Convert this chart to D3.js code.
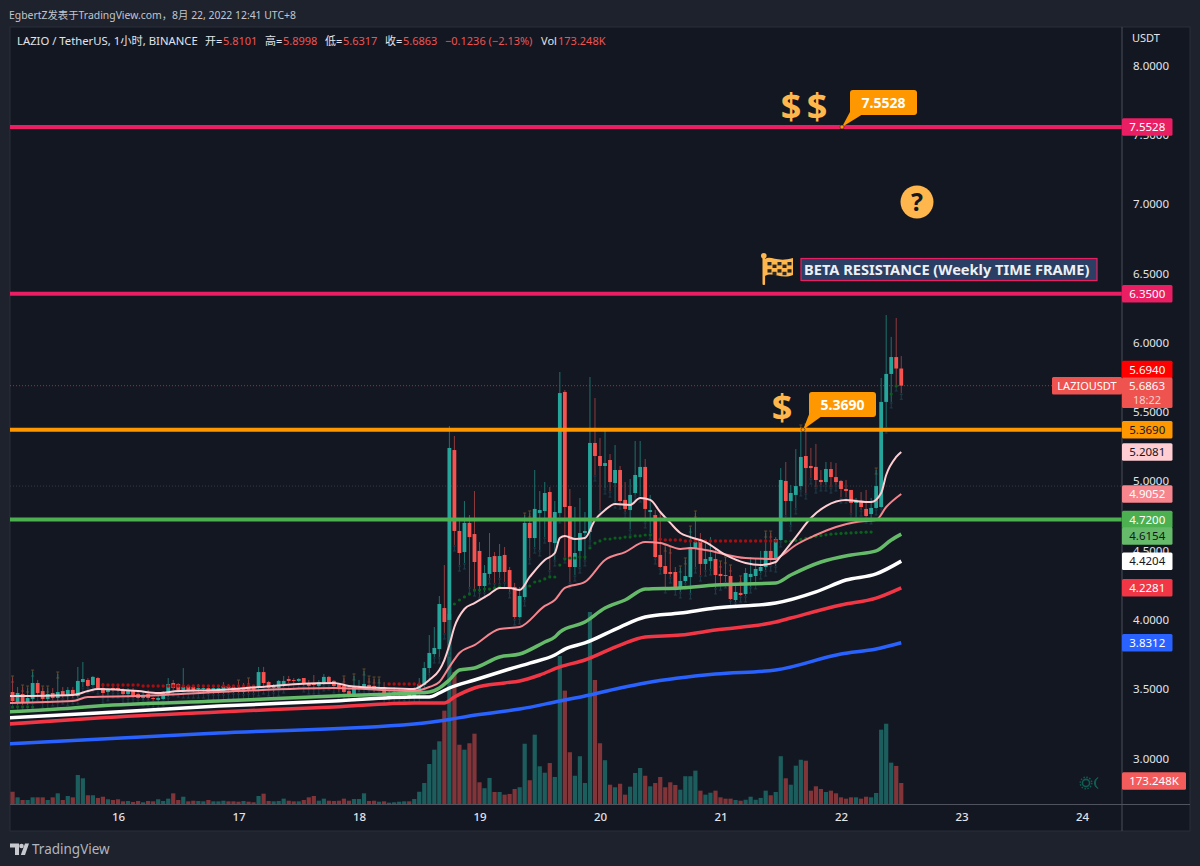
<!DOCTYPE html>
<html>
<head>
<meta charset="utf-8">
<script src="https://cdn.jsdelivr.net/npm/d3@7"></script>
<style>
html,body{margin:0;padding:0;background:#1e222d;}
svg{display:block;}
text{font-family:"Noto Sans","Noto Sans CJK SC",sans-serif;}
</style>
</head>
<body>
<svg id="chart" width="1200" height="866"></svg>
<script>
const opens = [
3.476,3.404,3.462,3.397,3.426,3.541,3.483,3.426,3.469,3.433,
3.483,3.447,3.491,3.447,3.548,3.563,3.527,3.577,3.505,3.476,
3.505,3.505,3.491,3.462,3.483,3.462,3.433,3.462,3.433,3.419,
3.426,3.462,3.541,3.534,3.491,3.520,3.512,3.498,3.498,3.505,
3.483,3.483,3.476,3.520,3.512,3.505,3.476,3.520,3.512,3.505,
3.620,3.548,3.505,3.505,3.534,3.570,3.563,3.556,3.577,3.541,
3.541,3.520,3.541,3.585,3.556,3.534,3.520,3.483,3.462,3.512,
3.512,3.527,3.520,3.505,3.505,3.440,3.455,3.462,3.462,3.469,
3.447,3.483,3.527,3.649,3.750,3.786,4.082,3.996,5.222,4.638,
4.486,4.696,4.616,4.494,4.241,4.328,4.457,4.342,4.465,4.356,
4.234,4.017,4.162,4.696,4.587,4.768,4.782,4.919,4.551,4.768,
5.641,4.818,4.378,4.494,4.623,4.631,5.273,5.179,5.107,5.150,
4.984,5.078,4.862,4.789,4.912,5.027,5.100,4.775,4.753,4.465,
4.385,4.342,4.342,4.227,4.277,4.306,4.515,4.566,4.400,4.421,
4.436,4.328,4.320,4.313,4.140,4.191,4.183,4.306,4.313,4.349,
4.378,4.494,4.436,4.573,4.999,4.854,4.898,4.962,5.179,5.107,
5.100,5.006,4.991,5.085,5.027,4.999,4.941,4.934,4.840,4.854,
4.797,4.760,4.804,4.811,5.569,5.771,5.893,5.8101];
const highs = [
3.577,3.512,3.512,3.505,3.620,3.563,3.505,3.505,3.505,3.606,
3.512,3.512,3.512,3.657,3.693,3.577,3.592,3.585,3.541,3.505,
3.534,3.534,3.505,3.505,3.505,3.476,3.476,3.491,3.440,3.455,
3.483,3.577,3.563,3.541,3.649,3.527,3.527,3.534,3.520,3.527,
3.520,3.520,3.548,3.534,3.527,3.548,3.541,3.563,3.527,3.657,
3.657,3.556,3.534,3.563,3.592,3.592,3.577,3.577,3.577,3.563,
3.599,3.563,3.606,3.592,3.563,3.541,3.577,3.527,3.592,3.563,
3.628,3.577,3.570,3.570,3.548,3.491,3.512,3.505,3.491,3.491,
3.512,3.577,3.693,3.887,3.945,4.169,4.392,5.395,5.323,4.717,
4.854,4.753,4.926,4.558,4.392,4.623,4.486,4.544,4.522,4.378,
4.263,4.234,4.753,4.768,5.078,4.926,4.991,4.955,4.854,5.785,
5.655,4.941,4.811,4.876,4.775,5.749,5.597,5.309,5.381,5.193,
5.258,5.107,4.991,5.013,5.287,5.287,5.157,4.898,4.789,4.768,
4.522,4.508,4.378,4.371,4.429,4.659,4.768,4.623,4.551,4.594,
4.515,4.407,4.436,4.378,4.263,4.299,4.371,4.450,4.443,4.494,
4.623,4.623,4.594,5.092,5.136,4.970,5.229,5.388,5.395,5.237,
5.266,5.078,5.136,5.136,5.128,5.006,5.006,4.934,4.876,4.919,
4.934,4.876,5.078,5.742,6.196,6.038,6.175,5.8998];
const lows = [
3.404,3.382,3.382,3.382,3.397,3.455,3.404,3.404,3.419,3.404,
3.433,3.419,3.433,3.433,3.512,3.512,3.520,3.505,3.440,3.455,
3.476,3.476,3.440,3.433,3.433,3.426,3.419,3.419,3.411,3.404,
3.419,3.440,3.491,3.483,3.476,3.476,3.476,3.476,3.476,3.462,
3.462,3.462,3.462,3.469,3.469,3.469,3.462,3.469,3.469,3.491,
3.505,3.491,3.476,3.491,3.512,3.541,3.541,3.548,3.520,3.505,
3.505,3.505,3.527,3.534,3.512,3.476,3.469,3.455,3.455,3.476,
3.505,3.498,3.476,3.491,3.433,3.440,3.440,3.447,3.455,3.440,
3.440,3.447,3.505,3.613,3.729,3.729,3.902,3.779,4.537,4.392,
4.407,4.234,4.212,4.198,4.198,4.299,4.263,4.299,4.270,4.198,
4.003,4.010,4.140,4.443,4.522,4.501,4.594,4.356,4.429,4.739,
4.450,4.270,4.320,4.378,4.429,4.573,5.042,4.789,4.948,4.926,
4.847,4.840,4.775,4.652,4.898,4.890,4.703,4.623,4.443,4.371,
4.234,4.306,4.219,4.198,4.263,4.191,4.378,4.320,4.356,4.364,
4.227,4.255,4.270,4.140,4.126,4.169,4.169,4.234,4.263,4.335,
4.356,4.392,4.385,4.566,4.753,4.681,4.804,4.934,4.912,5.020,
4.955,4.970,4.970,4.955,4.970,4.883,4.883,4.768,4.739,4.789,
4.739,4.732,4.797,4.804,5.388,5.569,5.691,5.6317];
const closes = [
3.411,3.469,3.404,3.433,3.541,3.469,3.426,3.462,3.433,3.476,
3.455,3.491,3.455,3.556,3.570,3.520,3.585,3.505,3.469,3.498,
3.491,3.491,3.462,3.491,3.447,3.433,3.455,3.433,3.426,3.433,
3.469,3.534,3.505,3.491,3.512,3.483,3.483,3.505,3.505,3.469,
3.505,3.505,3.520,3.505,3.483,3.476,3.505,3.491,3.491,3.620,
3.541,3.505,3.520,3.556,3.556,3.556,3.556,3.570,3.534,3.520,
3.527,3.548,3.585,3.548,3.520,3.512,3.476,3.462,3.512,3.520,
3.534,3.505,3.491,3.512,3.447,3.469,3.476,3.469,3.469,3.447,
3.491,3.534,3.649,3.758,3.794,4.111,3.981,5.237,4.638,4.479,
4.696,4.594,4.414,4.241,4.335,4.450,4.342,4.457,4.342,4.219,
4.017,4.169,4.696,4.587,4.797,4.789,4.912,4.558,4.775,5.633,
4.811,4.378,4.479,4.623,4.638,5.273,5.179,5.107,5.128,4.991,
5.078,4.854,4.797,4.898,5.042,5.100,4.797,4.789,4.450,4.378,
4.328,4.328,4.227,4.277,4.313,4.522,4.558,4.400,4.436,4.450,
4.320,4.313,4.313,4.147,4.198,4.176,4.335,4.328,4.364,4.378,
4.494,4.436,4.580,5.006,4.854,4.912,4.962,5.172,5.092,5.092,
5.006,4.991,5.085,5.027,4.991,4.941,4.926,4.840,4.862,4.811,
4.746,4.804,4.962,5.569,5.771,5.893,5.8101,5.6863];
// volume in thousands
const volumes = [
101,55,33,33,55,55,55,33,55,88,
33,66,55,239,212,72,72,50,60,39,
33,39,22,25,17,25,14,25,22,39,
25,44,88,33,60,22,27,25,22,33,
22,22,27,22,22,19,25,19,14,66,
85,25,22,25,44,27,22,22,33,55,
66,27,44,27,25,27,44,27,41,41,
88,25,27,19,22,11,14,19,22,22,
41,101,173,330,448,517,770,1568,1087,489,
448,501,580,179,130,215,99,99,77,83,
124,138,497,196,572,311,258,338,223,1221,
935,427,233,394,173,1584,1023,501,361,159,
138,167,77,143,256,297,233,146,173,223,
138,179,157,118,229,229,275,110,77,93,
110,55,44,44,33,27,35,60,35,50,
110,72,99,394,212,159,316,365,357,110,
146,124,99,110,88,55,44,55,55,44,
60,55,91,613,662,341,314,173.248];

// moving averages: bar index and price (-1 = left edge of the pane)
const fastIdx = [-1,12,15,17,25,29,33,41,49,57,64,67,74,80,81,83,85,86,87,88,90,92,95,97,99,101,103,106,108,109,110,112,114,116,118,120,123,125,127,129,131,133,135,138,142,146,149,152,153,156,159,162,166,168,171,173,174,176,177];
const fastMA = [3.447,3.455,3.483,3.498,3.483,3.469,3.483,3.491,3.512,3.534,3.541,3.520,3.505,3.498,3.512,3.563,3.635,3.707,3.815,3.945,4.075,4.118,4.183,4.227,4.227,4.212,4.306,4.429,4.479,4.587,4.602,4.580,4.587,4.717,4.789,4.833,4.826,4.876,4.862,4.775,4.696,4.623,4.594,4.558,4.465,4.407,4.392,4.414,4.457,4.594,4.732,4.818,4.862,4.854,4.847,4.912,5.042,5.172,5.2081];
const salmonIdx = [-1,12,15,25,41,64,80,83,85,87,89,92,97,101,106,108,110,114,118,122,126,129,133,135,138,146,152,153,156,160,164,168,172,174,177];
const salmonMA = [3.397,3.411,3.440,3.447,3.476,3.505,3.483,3.512,3.548,3.657,3.758,3.815,3.931,3.945,4.097,4.140,4.227,4.270,4.429,4.486,4.558,4.551,4.508,4.515,4.501,4.443,4.436,4.457,4.537,4.609,4.667,4.703,4.717,4.811,4.9052];
const greenIdx = [-1,12,17,41,64,80,83,85,87,89,92,97,101,106,108,109,114,118,122,126,133,140,152,155,161,167,172,175,177];
const greenMA = [3.332,3.361,3.375,3.411,3.447,3.469,3.476,3.505,3.563,3.635,3.649,3.729,3.750,3.837,3.873,3.909,3.981,4.082,4.140,4.219,4.227,4.248,4.263,4.320,4.414,4.465,4.494,4.573,4.6154];
const whiteIdx = [-1,17,41,64,80,83,85,87,92,99,103,108,110,114,121,126,133,140,152,160,166,172,177];
const whiteMA = [3.289,3.325,3.375,3.411,3.440,3.440,3.469,3.505,3.563,3.642,3.685,3.743,3.786,3.830,3.945,4.017,4.046,4.082,4.118,4.198,4.284,4.328,4.4204];
const redIdx = [-1,17,41,64,80,86,88,92,98,101,105,109,114,121,126,133,140,152,155,165,172,177];
const redMA = [3.245,3.289,3.332,3.368,3.397,3.397,3.440,3.505,3.541,3.556,3.599,3.657,3.707,3.815,3.873,3.887,3.923,3.981,4.010,4.104,4.154,4.2281];
const blueIdx = [-1,41,80,87,91,101,109,114,121,126,140,152,165,172,177];
const blueMA = [3.101,3.180,3.245,3.278,3.303,3.353,3.411,3.447,3.505,3.541,3.606,3.635,3.750,3.786,3.8312];

// stop-and-reverse style dots
const redDotIdx = [18,19,20,21,22,23,24,25,26,27,28,29,30,31,32,33,34,35,36,37,38,39,40,41,42,43,44,45,46,47,48,75,76,77,78,79,80,81,129,130,131,132,133,134,135,136,137,138,139,140,141,142,143,144,145,146,147,148,149,150,151,152];
const redDotVal = [3.527,3.527,3.527,3.527,3.527,3.527,3.527,3.527,3.520,3.520,3.520,3.520,3.520,3.520,3.520,3.520,3.520,3.520,3.520,3.520,3.520,3.520,3.520,3.520,3.520,3.520,3.520,3.520,3.520,3.520,3.520,3.534,3.534,3.534,3.534,3.534,3.534,3.534,4.578,4.573,4.573,4.573,4.573,4.566,4.566,4.566,4.566,4.566,4.566,4.566,4.566,4.566,4.566,4.566,4.566,4.566,4.566,4.566,4.566,4.566,4.566,4.566];
const greenDotIdx = [0,1,2,3,4,88,89,90,91,92,93,94,95,96,97,103,104,105,106,107,108,109,110,111,112,113,114,115,116,117,118,119,120,121,122,123,124,125,126,127,154,155,156,157,158,159,160,161,162,163,164,165,166,167,168,169,170,171,175,176];
const greenDotVal = [3.368,3.368,3.368,3.368,3.368,4.111,4.140,4.162,4.183,4.212,4.212,4.219,4.219,4.227,4.234,4.241,4.270,4.277,4.292,4.306,4.306,4.392,4.436,4.443,4.443,4.450,4.450,4.515,4.551,4.566,4.580,4.580,4.587,4.587,4.594,4.594,4.602,4.602,4.609,4.609,4.563,4.563,4.570,4.577,4.584,4.592,4.600,4.605,4.610,4.615,4.618,4.620,4.622,4.624,4.626,4.628,4.629,4.630,5.626,5.684];
const brownTopIdx = [0,2,3,4,6,7,9,45,47,66,68,70,71,72,73,102,103,130,131,133,134,135,136,141,142,143,145,150,151,157,158,172];

const yTicks = [8,7.5,7,6.5,6,5.5,5,4.5,4,3.5,3];
const xDays = [16,17,18,19,20,21,22,23,24];
const hLevels = [7.5528,6.35,5.369,4.72];
const hColors = ["#e91e63","#e91e63","#ff9800","#4caf50"];
const dottedLevel = 4.962;
const lastClose = 5.6863;

const tagValues = [7.5528,6.35,5.694,5.369,5.2081,4.9052,4.72,4.6154,4.4204,4.2281,3.8312];
const tagLabels = ["7.5528","6.3500","5.6940","5.3690","5.2081","4.9052","4.7200","4.6154","4.4204","4.2281","3.8312"];
const tagFills  = ["#e91e63","#e91e63","#ff0000","#ff9800","#ffcdd2","#f7858d","#4caf50","#66bb6a","#ffffff","#f23645","#2962ff"];
const tagInks   = ["#fff","#fff","#fff","#131722","#131722","#fff","#fff","#131722","#131722","#fff","#fff"];
const tagShift  = [0,0,-15,0,0,0,0,2,0,0,0];

const W = 1200, H = 866;
const L = 10, R = 1122, T = 27, PB = 804, B = 831, RE = 1190;
const svg = d3.select("#chart");

const x = d3.scaleLinear().domain([21, 165]).range([118, 841]);
const y = d3.scaleLinear().domain([8, 3]).range([65, 758]);
const vY = d3.scaleLinear().domain([0, 1691]).range([804, 599]);
const dayIdx = d => 21 + (d - 16) * 24;

svg.append("rect").attr("width", W).attr("height", H).attr("fill", "#1e222d");
svg.append("rect").attr("x", L).attr("y", T).attr("width", RE - L).attr("height", B - T)
  .attr("fill", "#131722").attr("stroke", "#2a2e39");
const clip = svg.append("clipPath").attr("id", "plot").append("rect")
  .attr("x", L).attr("y", T).attr("width", R - L).attr("height", PB - T);

// header text
function piece(xp, yp, s, fill, size) {
  svg.append("text").attr("x", xp).attr("y", yp).attr("fill", fill).attr("font-size", size || 11).text(s);
}
piece(9, 19, "EgbertZ发表于TradingView.com，8月 22, 2022 12:41 UTC+8", "#c3c6ce", 10.4);
const hW = "#e2e4ea", hR = "#ef5350";
piece(17, 45, "LAZIO / TetherUS, 1小时, BINANCE", hW, 11.3);
piece(205, 45, "开=", hW); piece(223, 45, "5.8101", hR);
piece(265, 45, "高=", hW); piece(283, 45, "5.8998", hR);
piece(325, 45, "低=", hW); piece(343, 45, "5.6317", hR);
piece(385, 45, "收=", hW); piece(403, 45, "5.6863", hR);
piece(445, 45, "−0.1236 (−2.13%)", hR);
piece(541, 45, "Vol", hW); piece(558, 45, "173.248K", hR);
piece(1132, 42, "USDT", hW, 11);

const plot = svg.append("g").attr("clip-path", "url(#plot)");

// dotted references
plot.append("line").attr("x1", L).attr("x2", R).attr("y1", y(dottedLevel)).attr("y2", y(dottedLevel))
  .attr("stroke", "#363a45").attr("stroke-dasharray", "1 2");
plot.append("line").attr("x1", L).attr("x2", R).attr("y1", y(lastClose)).attr("y2", y(lastClose))
  .attr("stroke", "#ef5350").attr("stroke-opacity", .55).attr("stroke-dasharray", "1 2");

// volume
const up = i => closes[i] >= opens[i];
plot.append("g").selectAll("rect").data(volumes).join("rect")
  .attr("x", (d, i) => x(i) - 2.1).attr("width", 4.2)
  .attr("y", d => vY(d)).attr("height", d => vY(0) - vY(d))
  .attr("fill", (d, i) => up(i) ? "#26a69a" : "#ef5350")
  .attr("fill-opacity", .5);

// low markers and high markers
const lowG = plot.append("g").attr("stroke", "#1f3d4a").attr("stroke-width", 1);
lows.forEach((v, i) => {
  const px = x(i), py = y(v);
  lowG.append("path").attr("d", `M${px - 1.5},${py + 1}H${px + 1.5}M${px},${py + 1}V${py + 6}M${px - 1.5},${py + 6}H${px + 1.5}`).attr("fill", "none");
});
const brownG = plot.append("g").attr("stroke", "#5f4a2c").attr("stroke-width", 1);
brownTopIdx.forEach(i => {
  const px = x(i), py = y(highs[i]);
  brownG.append("path").attr("d", `M${px - 1.5},${py - 2}H${px + 1.5}M${px},${py - 2}V${py + 4}M${px - 1.5},${py + 4}H${px + 1.5}`).attr("fill", "none");
});

// candles
const candles = plot.append("g");
candles.selectAll("line").data(opens).join("line")
  .attr("x1", (d, i) => x(i)).attr("x2", (d, i) => x(i))
  .attr("y1", (d, i) => y(highs[i])).attr("y2", (d, i) => y(lows[i]))
  .attr("stroke", (d, i) => up(i) ? "#1d716d" : "#8e3b3e").attr("stroke-width", 1);
candles.selectAll("rect").data(opens).join("rect")
  .attr("x", (d, i) => x(i) - 1.9).attr("width", 3.8)
  .attr("y", (d, i) => y(Math.max(opens[i], closes[i])))
  .attr("height", (d, i) => Math.max(1, Math.abs(y(opens[i]) - y(closes[i]))))
  .attr("fill", (d, i) => up(i) ? "#26a69a" : "#f6524f");

// dots
plot.append("g").selectAll("circle").data(redDotIdx).join("circle")
  .attr("cx", d => x(d)).attr("cy", (d, k) => y(redDotVal[k])).attr("r", 1.7).attr("fill", "#a50f12");
plot.append("g").selectAll("circle").data(greenDotIdx).join("circle")
  .attr("cx", d => x(d)).attr("cy", (d, k) => y(greenDotVal[k])).attr("r", 1.6).attr("fill", "#0a5f1c");

// moving averages
const maLine = d3.line().x(d => x(d[0])).y(d => y(d[1])).curve(d3.curveMonotoneX);
const mas = [
  [blueIdx, blueMA, "#2962ff", 3.5],
  [redIdx, redMA, "#f23645", 3.5],
  [whiteIdx, whiteMA, "#ffffff", 3.5],
  [greenIdx, greenMA, "#66bb6a", 3.5],
  [salmonIdx, salmonMA, "#f7858d", 2],
  [fastIdx, fastMA, "#ffcdd2", 2]
];
mas.forEach(([idx, vals, col, w]) => {
  plot.append("path").attr("d", maLine(idx.map((d, k) => [d, vals[k]])))
    .attr("fill", "none").attr("stroke", col).attr("stroke-width", w).attr("stroke-linejoin", "round");
});

// horizontal levels
plot.append("g").selectAll("line").data(hLevels).join("line")
  .attr("x1", L).attr("x2", R).attr("y1", d => y(d)).attr("y2", d => y(d))
  .attr("stroke", (d, i) => hColors[i]).attr("stroke-width", 4);

// axes
svg.append("line").attr("x1", R).attr("x2", R).attr("y1", T).attr("y2", B).attr("stroke", "#4a4e59");
svg.append("line").attr("x1", L).attr("x2", RE).attr("y1", PB + .5).attr("y2", PB + .5).attr("stroke", "#50535e");

const yAxis = d3.axisRight(y).tickValues(yTicks).tickFormat(d3.format(".4f")).tickSize(0).tickPadding(11);
const yG = svg.append("g").attr("transform", `translate(${R},0.5)`).call(yAxis);
yG.select(".domain").remove();
yG.selectAll("text").attr("fill", "#e2e4ea").attr("font-size", 11.5);

const xAxis = d3.axisBottom(x).tickValues(xDays.map(dayIdx)).tickFormat((d, i) => xDays[i]).tickSize(0).tickPadding(9);
const xG = svg.append("g").attr("transform", `translate(0,${PB})`).call(xAxis);
xG.select(".domain").remove();
xG.selectAll("text").attr("fill", "#e2e4ea").attr("font-size", 11.5).attr("font-weight", 500);

// price tags
function tag(xl, yc, w, h, fill, ink, label, size) {
  svg.append("rect").attr("x", xl).attr("y", yc - h / 2).attr("width", w).attr("height", h)
    .attr("rx", 1.5).attr("fill", fill);
  if (label) svg.append("text").attr("x", xl + w / 2).attr("y", yc + 4).attr("text-anchor", "middle")
    .attr("fill", ink).attr("font-size", size || 11.5).text(label);
}
tagValues.forEach((v, i) => tag(R, y(v) + tagShift[i], 50.5, 17.5, tagFills[i], tagInks[i], tagLabels[i]));
tag(R, y(lastClose) + 7, 50.5, 30.5, "#ef5350", "#fff", "");
svg.append("text").attr("x", R + 25).attr("y", y(lastClose) + 4).attr("text-anchor", "middle").attr("fill", "#fff").attr("font-size", 11.5).text(d3.format(".4f")(lastClose));
svg.append("text").attr("x", R + 25).attr("y", y(lastClose) + 18).attr("text-anchor", "middle").attr("fill", "#fbd0cf").attr("font-size", 11).text("18:22");
tag(1052, y(lastClose), 70, 17.5, "#ef5350", "#fff", "LAZIOUSDT", 11);
tag(R, vY(173.248) - 2, 64, 17.5, "#f45c5c", "#fff", "173.248K", 11.5);

// annotations
const amber = "#ffb74d", orange = "#ff9800";
function dollar(xc, yc, size) {
  svg.append("text").attr("x", xc).attr("y", yc).attr("text-anchor", "middle").attr("dominant-baseline", "central")
    .attr("font-size", size).attr("font-weight", 700).attr("font-family", "DejaVu Sans").attr("fill", amber).text("$");
}
dollar(791, 105, 36); dollar(817, 105, 36); dollar(782, 406, 36);

function callout(priceVal, tipX, boxX, boxYTop, label) {
  const tipY = y(priceVal);
  svg.append("path").attr("d", `M${tipX},${tipY}L${boxX + 1},${boxYTop + 20}L${boxX + 13},${boxYTop + 24}Z`).attr("fill", orange);
  svg.append("rect").attr("x", boxX).attr("y", boxYTop).attr("width", 67).attr("height", 25).attr("rx", 3).attr("fill", orange);
  svg.append("circle").attr("cx", tipX).attr("cy", tipY).attr("r", 2).attr("fill", orange).attr("stroke", "#131722").attr("stroke-width", .5);
  svg.append("text").attr("x", boxX + 33.5).attr("y", boxYTop + 17.5).attr("text-anchor", "middle").attr("fill", "#fff").attr("font-size", 14).attr("font-weight", 700).text(label);
}
callout(7.5528, 842, 850, 90, "7.5528");
callout(5.369, 803, 809, 392, "5.3690");

// question mark
svg.append("circle").attr("cx", 917).attr("cy", 202).attr("r", 16.5).attr("fill", amber);
svg.append("text").attr("x", 917).attr("y", 211).attr("text-anchor", "middle").attr("font-size", 25).attr("font-weight", 700).attr("font-family", "DejaVu Sans").attr("fill", "#131722").text("?");

// chequered flag
const flag = svg.append("g").attr("transform", "translate(761,253)");
flag.append("rect").attr("x", 1.5).attr("y", 3).attr("width", 2.6).attr("height", 29).attr("rx", 1).attr("fill", amber);
flag.append("circle").attr("cx", 2.8).attr("cy", 2.8).attr("r", 2.8).attr("fill", amber);
flag.append("path").attr("d", "M4,6C10,2 16,10 32,5V22C20,27 12,18 4,23Z").attr("fill", amber);
[0,1,2,3].forEach(r => [0,1,2,3,4].forEach(c => {
  if ((r + c) % 2 === 0) flag.append("rect").attr("x", 6.5 + c * 5).attr("y", 8 + r * 3.6 + (c % 2 ? 0 : 1)).attr("width", 4).attr("height", 3.4).attr("fill", "#2a2622");
}));

svg.append("rect").attr("x", 801).attr("y", 258.5).attr("width", 296).attr("height", 22).attr("fill", "#2a3f63").attr("stroke", "#e91e63").attr("stroke-width", 1.2);
svg.append("text").attr("x", 804).attr("y", 275).attr("fill", "#eef0f4").attr("font-size", 14.6).attr("font-weight", 700).text("BETA RESISTANCE (Weekly TIME FRAME)");

// session icons
const sess = svg.append("g").attr("stroke", "#0f5e55").attr("fill", "none");
sess.append("circle").attr("cx", 1086).attr("cy", 783).attr("r", 3.6).attr("stroke-width", 1.6);
sess.append("circle").attr("cx", 1086).attr("cy", 783).attr("r", 5.8).attr("stroke-width", 1.4).attr("stroke-dasharray", "1.5 1.5");
sess.append("path").attr("d", "M1098,777.5A6,6 0 0 0 1098,788.5A7,7 0 0 1 1098,777.5Z").attr("fill", "#0f5e55").attr("stroke-width", 1);

// logo
const logo = svg.append("g").attr("fill", "#c7c9cf");
logo.append("path").attr("d", "M10,843.5H19V855H15V847.5H10Z");
logo.append("circle").attr("cx", 21.5).attr("cy", 846).attr("r", 2.3);
logo.append("path").attr("d", "M25,843.5H29L25,855H20.8Z");
svg.append("text").attr("x", 32).attr("y", 854).attr("fill", "#b2b5be").attr("font-size", 13.5).text("TradingView");
</script>
</body>
</html>
